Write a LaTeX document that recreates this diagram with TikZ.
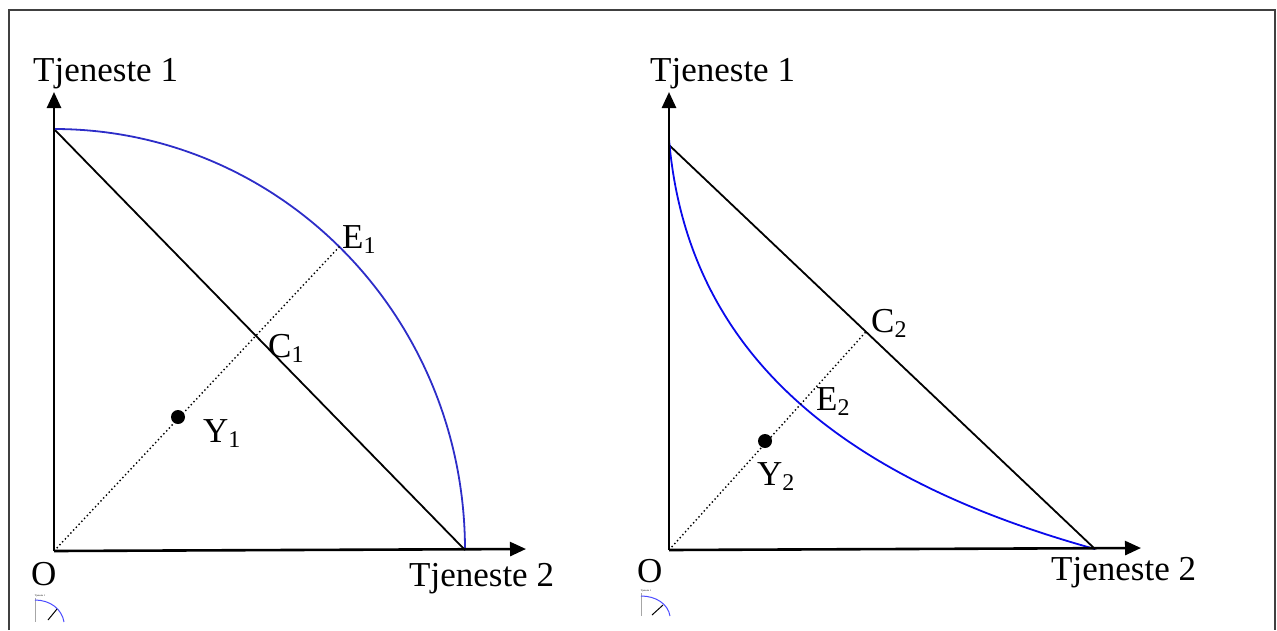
\documentclass[tikz,border=0pt]{standalone}
\usepackage{fontspec}
\setmainfont{Liberation Serif}
\usetikzlibrary{arrows.meta,calc}
\newcommand\mysub[1]{\raisebox{-5pt}{\fontsize{24}{24}\selectfont #1}}
\tikzset{
  axis/.style={line width=2.6pt,-{Triangle[length=16pt,width=14pt]}},
  chord/.style={line width=1.8pt},
  curve1/.style={line width=1.8pt,draw={rgb,255:red,45;green,45;blue,200}},
  curve2/.style={line width=1.8pt,draw={rgb,255:red,10;green,10;blue,235}},
  dots/.style={line width=1.4pt,dash pattern=on 1.4pt off 2.6pt},
  lbl/.style={inner sep=0pt,font=\fontsize{35}{40}\selectfont,anchor=base west},
  pt/.style={circle,fill=black,inner sep=0pt,minimum size=14pt},
  tiny/.style={inner sep=0pt,font=\fontsize{2.5}{3}\selectfont},
}
\begin{document}
\begin{tikzpicture}[x=1pt,y=-1pt]
\useasboundingbox (0,0) rectangle (1277,630);
\draw[line width=2pt,draw={rgb,255:red,64;green,64;blue,64}] (9,630) -- (9,10) -- (1275,10) -- (1275,630);

% ---------- left panel ----------
\coordinate (O1) at (54,551);
\coordinate (T1) at (54,92);
\coordinate (X1) at (526,549);
\coordinate (A1) at (54,129);
\coordinate (B1) at (465,550);
\coordinate (E1) at (340,246);
\coordinate (C1) at (intersection of O1--E1 and A1--B1);
\node[pt] (Y1) at (178,417) {};
\draw[chord] (A1) -- (B1);
\draw[curve1] (A1) .. controls (281,129) and (465,317) .. (B1);
\draw[dots] (O1) -- (E1);
\draw[axis] (O1) -- (T1);
\draw[axis] (O1) -- (X1);
\node[lbl] (t11) at (33,81) {Tjeneste 1};
\node[lbl] (o1) at (31,585) {O};
\node[lbl] (t12) at (409,586) {Tjeneste 2};
\node[lbl] (e1) at (342,248) {E\mysub{1}};
\node[lbl] (c1) at (268,357) {C\mysub{1}};
\node[lbl] (y1) at (203,442) {Y\mysub{1}};

% left icon
\draw[gray!70,line width=0.8pt] (35,598) -- (35,622);
\draw[blue!70,line width=1pt] (35,600) .. controls (50,600) and (62,609) .. (64,622);
\draw[line width=1pt] (48,620) -- (57,609);
\node[tiny] (i1) at (40,596) {Tjeneste 1};

% ---------- right panel ----------
\coordinate (O2) at (669,550);
\coordinate (T2) at (669,92);
\coordinate (X2) at (1141,548);
\coordinate (A2) at (669,145);
\coordinate (B2) at (1095,549);
\coordinate (D2) at (863,335);
\coordinate (C2) at (intersection of O2--D2 and A2--B2);
\node[pt] (Y2) at (765,441) {};
\draw[chord] (A2) -- (B2);
\draw[curve2] (669,139) .. controls (685,330) and (810,470) .. (B2);
\draw[dots] (O2) -- (C2);
\draw[axis] (O2) -- (T2);
\draw[axis] (O2) -- (X2);
\node[lbl] (t21) at (650,81) {Tjeneste 1};
\node[lbl] (o2) at (637,582) {O};
\node[lbl] (t22) at (1051,580) {Tjeneste 2};
\node[lbl] (e2) at (816,410) {E\mysub{2}};
\node[lbl] (c2) at (871,332) {C\mysub{2}};
\node[lbl] (y2) at (757,485) {Y\mysub{2}};

% right icon
\draw[gray!70,line width=0.8pt] (641,593) -- (641,616);
\draw[blue!70,line width=1pt] (641,596) .. controls (656,596) and (668,604) .. (670,616);
\draw[line width=1pt] (652,615) -- (663,605);
\node[tiny] (i2) at (646,591) {Tjeneste 1};
\end{tikzpicture}
\end{document}
